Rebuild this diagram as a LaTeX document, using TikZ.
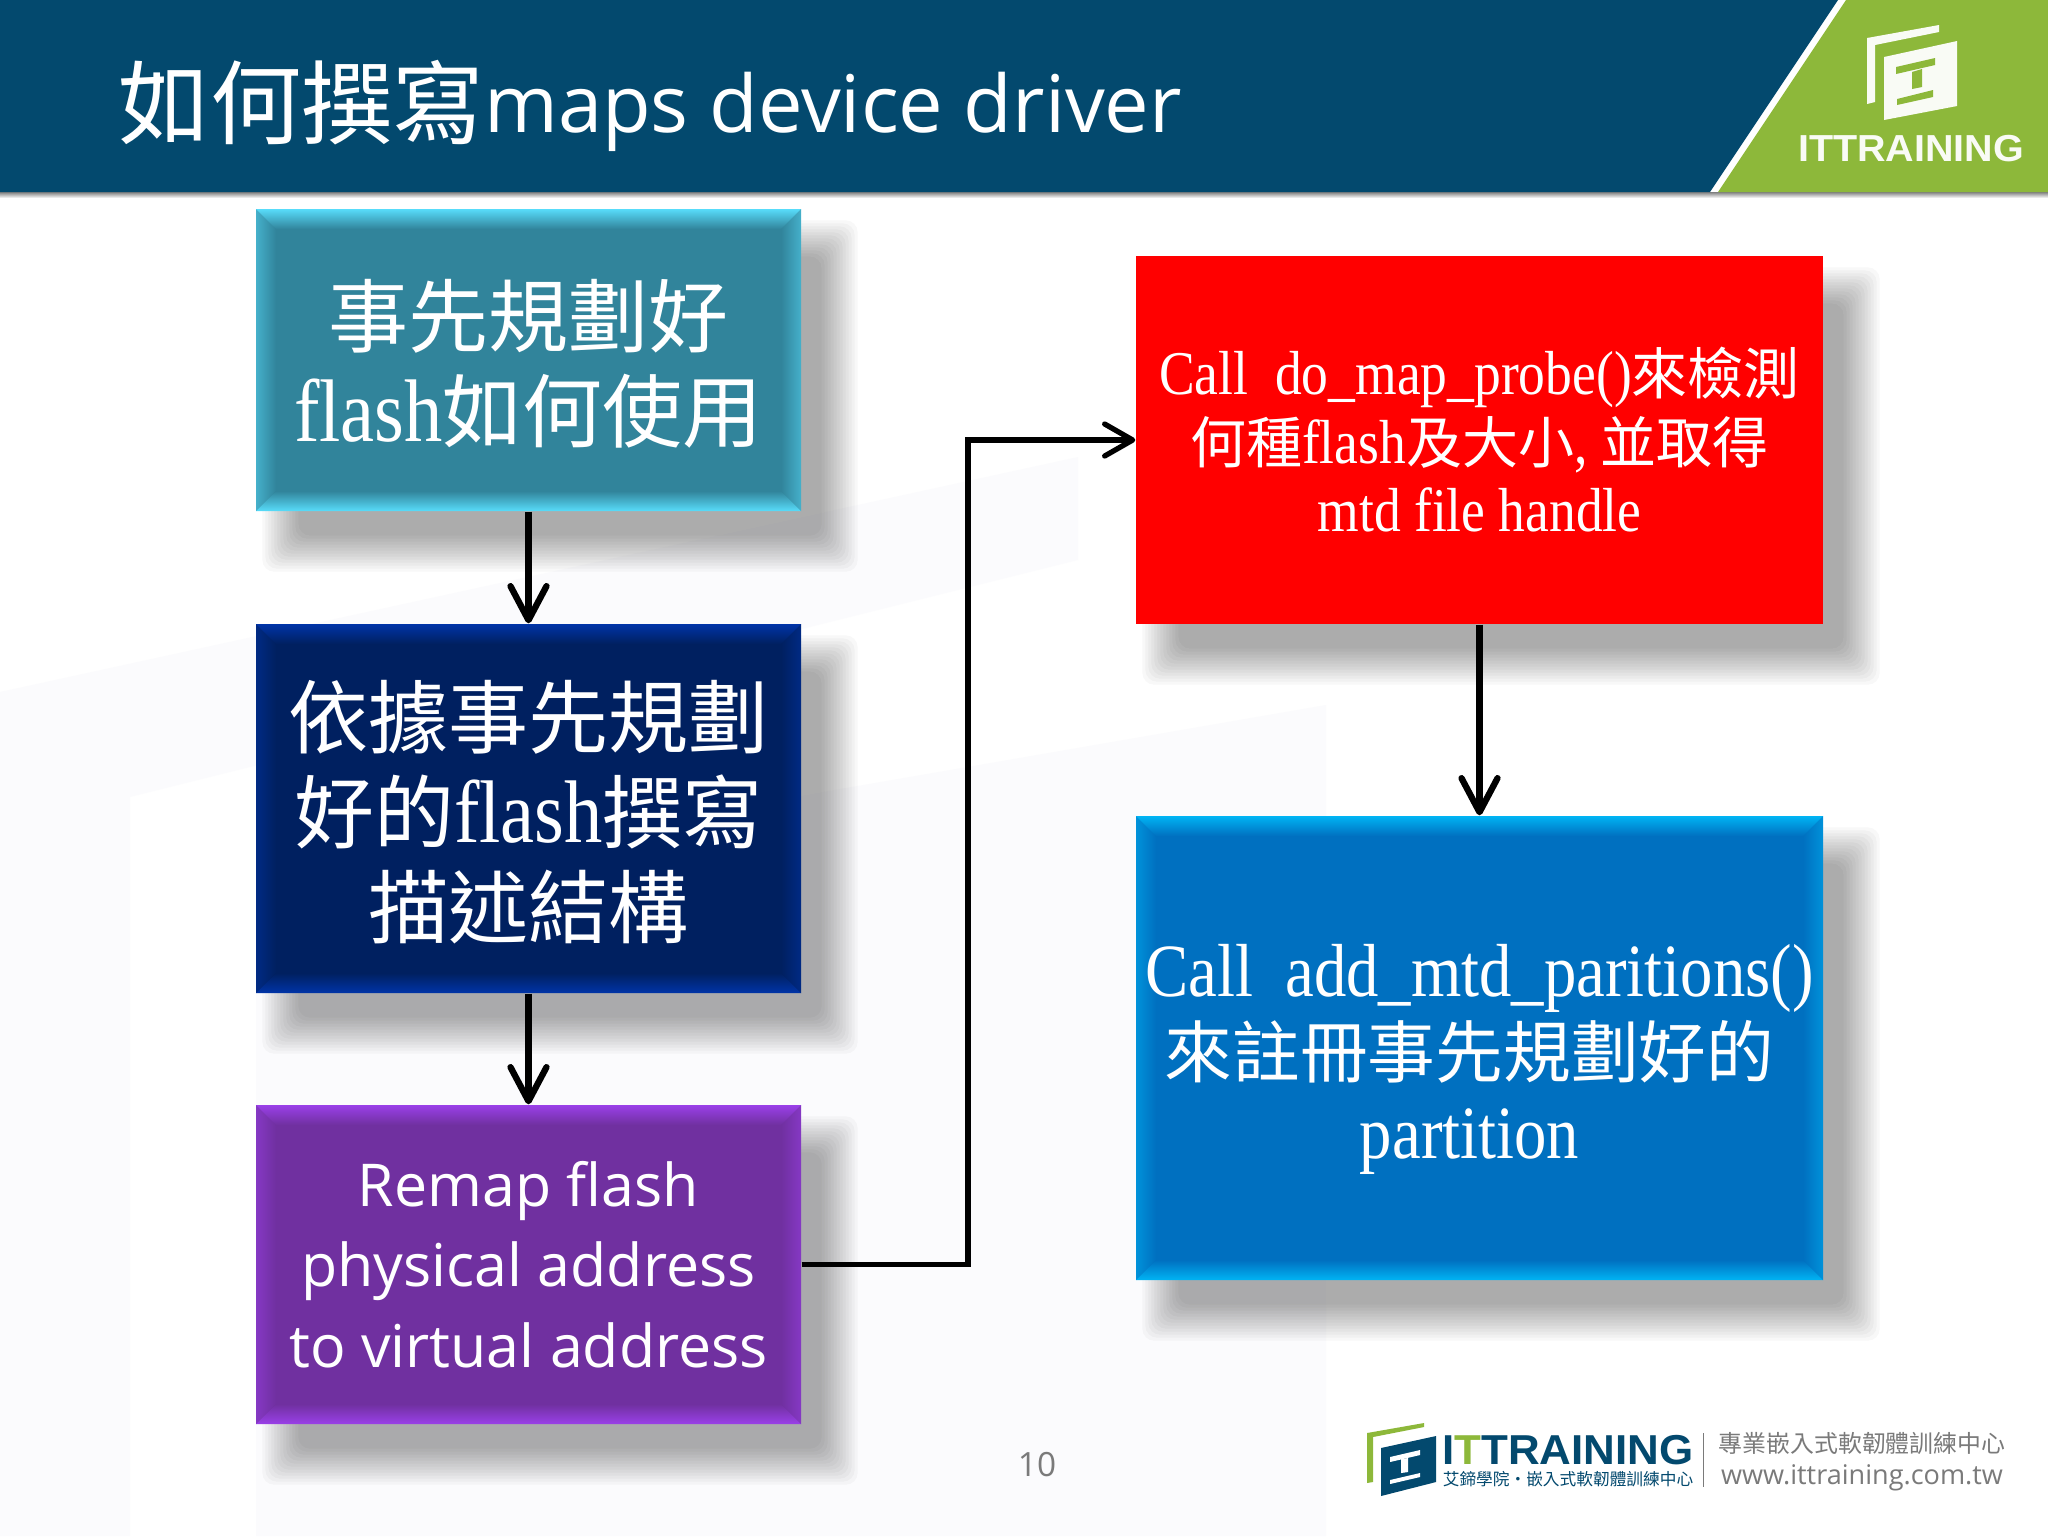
\documentclass[tikz,border=0pt]{standalone}
\usepackage{fontspec}
\usetikzlibrary{arrows.meta,calc}
\setmainfont{Liberation Serif}
\setsansfont{Open Sans}
\newfontfamily\cjk{Noto Sans CJK TC}
\newfontfamily\cjkbody[Scale=0.9]{Noto Sans CJK TC}
\newfontfamily\narrowserif[FakeStretch=0.86]{Liberation Serif}
\newfontfamily\logofont[FakeStretch=1.05]{Liberation Sans}
\definecolor{headblue}{HTML}{03496E}
\definecolor{headgreen}{HTML}{8DB83A}
\definecolor{tealmain}{HTML}{31849B}
\definecolor{teallight}{HTML}{58DCFA}
\definecolor{navymain}{HTML}{002060}
\definecolor{navylight}{HTML}{0034A8}
\definecolor{purplemain}{HTML}{7030A0}
\definecolor{purplelight}{HTML}{9A40E8}
\definecolor{bluemain}{HTML}{0070C0}
\definecolor{bluelight}{HTML}{00B4F4}
\definecolor{watermark}{HTML}{FBFBFD}
\definecolor{footgrey}{HTML}{7A7A7A}
\pgfdeclarelayer{backdrop}
\pgfdeclarelayer{shadow}
\pgfsetlayers{backdrop,shadow,main}
\newcommand{\bevelfill}[2]{%
    \coordinate (nw) at (path picture bounding box.north west);
    \coordinate (ne) at (path picture bounding box.north east);
    \coordinate (sw) at (path picture bounding box.south west);
    \coordinate (se) at (path picture bounding box.south east);
    \shade [left color=#2!50!#1,right color=#1] (nw) -- ($(nw)+(0.2cm,-0.2cm)$) -- ($(sw)+(0.2cm,0.2cm)$) -- (sw) -- cycle;
    \shade [left color=#1,right color=#2!50!#1] (ne) -- ($(ne)+(-0.2cm,-0.2cm)$) -- ($(se)+(-0.2cm,0.2cm)$) -- (se) -- cycle;
    \shade [top color=#2,bottom color=#1] (nw) -- (ne) -- ($(ne)+(-0.2cm,-0.2cm)$) -- ($(nw)+(0.2cm,-0.2cm)$) -- cycle;
    \shade [top color=#1,bottom color=#2] (sw) -- (se) -- ($(se)+(-0.2cm,0.2cm)$) -- ($(sw)+(0.2cm,0.2cm)$) -- cycle;
}
\newcommand{\softshadow}[1]{%
    \begin{pgfonlayer}{shadow}
        \foreach \s in {-18,-15,...,18}
            \fill [black,opacity=0.027,rounded corners=0.12cm] ($(#1.north west)+(25-\s,-30+\s)$) rectangle ($(#1.south east)+(38+\s,-42-\s)$);
    \end{pgfonlayer}
}
\begin{document}
\begin{tikzpicture}[x=0.1mm,y=0.1mm,
        flatbox/.style={fill=red,text=white,inner sep=0pt,align=center},
        bevelbox/.style 2 args={fill=#1,text=white,inner sep=0pt,align=center,
            path picture={\bevelfill{#1}{#2}}},
        flow/.style={black,line width=1.8pt,-{Straight Barb[length=3.4mm,width=3.6mm,line width=1.8pt,round]}},
        elbow/.style={black,line width=1.5pt,-{Straight Barb[length=2.8mm,width=3.2mm,line width=1.5pt,round]}}]
            \useasboundingbox (0,0) rectangle (2048,-1536);
            \begin{pgfonlayer}{backdrop}
            \fill [white] (0,0) rectangle (2048,-1536);
            \fill [watermark] (0,-692) -- (1078,-457) -- (1078,-560) -- (130,-797) -- (130,-1536) -- (0,-1536) -- cycle;
            \fill [watermark] (256,-890) -- (1326,-705) -- (1326,-1536) -- (256,-1536) -- cycle;
            \end{pgfonlayer}
            \shade [top color=black!50,bottom color=white] (0,-192) rectangle (2048,-198);
            \fill [headblue] (0,0) -- (1838,0) -- (1710,-192) -- (0,-192) -- cycle;
            \fill [headgreen] (1846,0) -- (2048,0) -- (2048,-192) -- (1718,-192) -- cycle;
            \fill [white!95!headgreen] (1867,-38) -- (1939,-25) -- (1939,-32) -- (1875,-45) -- (1875,-102) -- (1867,-104) -- cycle;
            \fill [white!95!headgreen] (1884,-57) -- (1957,-41) -- (1957,-106) -- (1884,-120) -- cycle;
            \fill [headgreen] (1896,-67) -- (1935,-58) -- (1935,-65) -- (1896,-74) -- cycle;
            \fill [headgreen] (1912,-72) -- (1922,-69) -- (1922,-87) -- (1912,-89) -- cycle;
            \fill [headgreen] (1897,-99) -- (1933,-90) -- (1933,-97) -- (1897,-105) -- cycle;
            \node [text=white!95!headgreen,inner sep=0pt,font=\logofont\bfseries\fontsize{10.7}{12}\selectfont] (headlogo) at (1911,-149) {ITTRAINING};
            \node [text=white,inner sep=0pt,anchor=west,font=\sffamily\fontsize{22.6}{30}\selectfont] (title) at (118,-106) {{\cjk\fontsize{26}{30}\selectfont 如何撰寫}\raisebox{1.4pt}{maps device driver}};

            \node [bevelbox={tealmain}{teallight},minimum width=5.45cm,minimum height=3.02cm,font=\narrowserif\fontsize{25.3}{27}\selectfont] (plan) at (528.5,-360) {\rule{0pt}{21.5pt}{\cjkbody 事先規劃好}\\flash{\cjkbody 如何使用}};
            \node [bevelbox={navymain}{navylight},minimum width=5.45cm,minimum height=3.69cm,font=\narrowserif\fontsize{25.3}{27}\selectfont] (describe) at (528.5,-808.5) {\rule{0pt}{21.2pt}{\cjkbody 依據事先規劃}\\{\cjkbody 好的}flash{\cjkbody 撰寫}\\{\cjkbody 描述結構}};
            \node [bevelbox={purplemain}{purplelight},minimum width=5.45cm,minimum height=3.19cm,font=\sffamily\fontsize{16.8}{23}\selectfont] (remap) at (528.5,-1264.5) {Remap flash\\physical address\\to virtual address};
            \node [flatbox,minimum width=6.87cm,minimum height=3.68cm,font=\narrowserif\fontsize{17.7}{19.5}\selectfont] (probe) at (1479.5,-440) {Call\ \ do\_map\_probe(){\cjkbody 來檢測}\\{\cjkbody 何種}flash{\cjkbody 及大小}, {\cjkbody 並取得}\\mtd file handle};
            \node [bevelbox={bluemain}{bluelight},minimum width=6.87cm,minimum height=4.64cm,font=\narrowserif\fontsize{21.4}{23}\selectfont] (register) at (1479.5,-1048) {\rule{0pt}{21.4pt}Call\ \ add\_mtd\_paritions()\\{\cjkbody 來註冊事先規劃好的}\rule{0.2cm}{0pt}\\partition\rule{0.2cm}{0pt}};
            \softshadow{plan}
            \softshadow{describe}
            \softshadow{remap}
            \softshadow{probe}
            \softshadow{register}

            \draw [flow] (plan) -- (describe);
            \draw [flow] (describe) -- (remap);
            \draw [elbow] (remap.east) -- (968,-1264.5) |- (probe.west);
            \draw [flow] (probe) -- (register);

            \node [text=footgrey,inner sep=0pt,font=\sffamily\fontsize{9.5}{11}\selectfont] (pageno) at (1037,-1465) {10};
            \fill [headgreen] (1367,-1433) -- (1424,-1423) -- (1424,-1427) -- (1373,-1437) -- (1373,-1482) -- (1367,-1483) -- cycle;
            \fill [headblue] (1381,-1448) -- (1436,-1436) -- (1436,-1482) -- (1381,-1496) -- cycle;
            \fill [white] (1390,-1457) -- (1420,-1450) -- (1420,-1455) -- (1390,-1462) -- cycle;
            \fill [white] (1401,-1459) -- (1408,-1458) -- (1408,-1472) -- (1401,-1473) -- cycle;
            \fill [white] (1390,-1480) -- (1420,-1473) -- (1420,-1477) -- (1390,-1484) -- cycle;
            \node [text=headblue,inner sep=0pt,font=\logofont\bfseries\fontsize{11.9}{13}\selectfont] (footlogo) at (1568,-1450) {I\textcolor{headgreen}{T}TRAINING};
            \node [text=headblue,inner sep=0pt,font=\cjk\fontsize{4.75}{5}\selectfont] (footsub) at (1568,-1479) {艾鍗學院‧嵌入式軟韌體訓練中心};
            \fill [footgrey] (1702.5,-1433) rectangle (1704,-1487);
            \node [text=footgrey,inner sep=0pt,font=\cjk\fontsize{6.8}{8}\selectfont] (footcn) at (1862,-1443) {專業嵌入式軟韌體訓練中心};
            \node [text=footgrey,inner sep=0pt,font=\sffamily\fontsize{7.7}{9}\selectfont] (footurl) at (1862,-1478) {www.ittraining.com.tw};
        \end{tikzpicture}
\end{document}
